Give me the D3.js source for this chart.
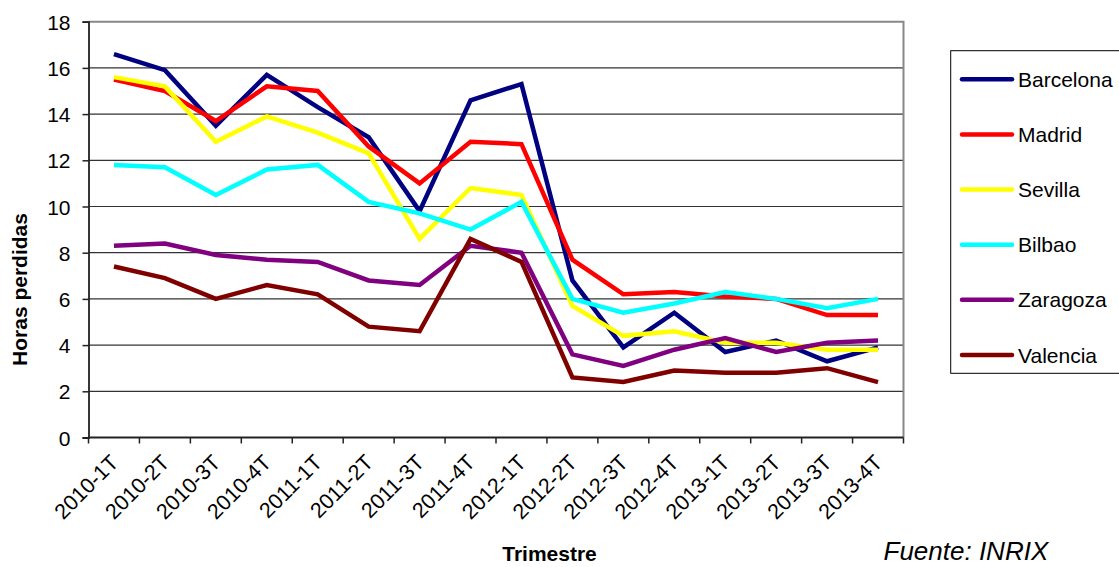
<!DOCTYPE html>
<html>
<head>
<meta charset="utf-8">
<script src="https://cdn.jsdelivr.net/npm/d3@7"></script>
<style>
  html, body { margin: 0; padding: 0; background: #fff; }
  svg { display: block; }
  text { font-family: "Liberation Sans", Arial, sans-serif; fill: #000; }
</style>
</head>
<body>
<svg id="chart" width="1119" height="567"></svg>
<script>
const categories = ["2010-1T","2010-2T","2010-3T","2010-4T","2011-1T","2011-2T","2011-3T","2011-4T",
                    "2012-1T","2012-2T","2012-3T","2012-4T","2013-1T","2013-2T","2013-3T","2013-4T"];
const yTicks = [0, 2, 4, 6, 8, 10, 12, 14, 16, 18];
const seriesNames = ["Barcelona", "Madrid", "Sevilla", "Bilbao", "Zaragoza", "Valencia"];
const seriesColors = ["#000080", "#FF0000", "#FFFF00", "#00FFFF", "#800080", "#800000"];
const barcelona = [16.6, 15.9, 13.5, 15.7, 14.3, 13.0, 9.8, 14.6, 15.3, 6.8, 3.9, 5.4, 3.7, 4.2, 3.3, 3.9];
const madrid    = [15.5, 15.0, 13.7, 15.2, 15.0, 12.6, 11.0, 12.8, 12.7, 7.7, 6.2, 6.3, 6.1, 6.0, 5.3, 5.3];
const sevilla   = [15.6, 15.2, 12.8, 13.9, 13.2, 12.3, 8.6, 10.8, 10.5, 5.7, 4.4, 4.6, 4.1, 4.1, 3.8, 3.8];
const bilbao    = [11.8, 11.7, 10.5, 11.6, 11.8, 10.2, 9.7, 9.0, 10.2, 6.0, 5.4, 5.8, 6.3, 6.0, 5.6, 6.0];
const zaragoza  = [8.3, 8.4, 7.9, 7.7, 7.6, 6.8, 6.6, 8.3, 8.0, 3.6, 3.1, 3.8, 4.3, 3.7, 4.1, 4.2];
const valencia  = [7.4, 6.9, 6.0, 6.6, 6.2, 4.8, 4.6, 8.6, 7.6, 2.6, 2.4, 2.9, 2.8, 2.8, 3.0, 2.4];
const seriesValues = [barcelona, madrid, sevilla, bilbao, zaragoza, valencia];
const yTitle = "Horas perdidas";
const xTitle = "Trimestre";
const sourceText = "Fuente: INRIX";

const svg = d3.select("#chart");
const pL = 88.5, pR = 903.5, pT = 21.7, pB = 437.5;

const x = d3.scaleBand().domain(categories).range([pL, pR]).paddingInner(0).paddingOuter(0);
const y = d3.scaleLinear().domain([0, 18]).range([pB, pT]);
const cx = d => x(d) + x.bandwidth() / 2;

// gridlines
svg.append("g").selectAll("line").data(yTicks.filter(t => t > 0 && t < 18)).join("line")
  .attr("x1", pL).attr("x2", pR)
  .attr("y1", d => y(d)).attr("y2", d => y(d))
  .attr("stroke", "#333").attr("stroke-width", 1.2);

// top & right border
svg.append("path")
  .attr("d", `M${pL},${y(18)}H${pR}V${pB}`)
  .attr("fill", "none").attr("stroke", "#888").attr("stroke-width", 2);

// y axis
const yAxis = d3.axisLeft(y).tickValues(yTicks).tickSize(6).tickPadding(12).tickFormat(d3.format("d"));
const gy = svg.append("g").attr("transform", `translate(${pL},0)`).call(yAxis);
gy.select(".domain").attr("stroke", "#222").attr("stroke-width", 1.8);
gy.selectAll(".tick line").attr("stroke", "#222").attr("stroke-width", 1.5);
gy.selectAll(".tick text").style("font-family", "Liberation Sans, Arial, sans-serif")
  .style("font-size", "21px").attr("fill", "#000").attr("dy", "0.36em");

// x axis: ticks at boundaries
const xAxisG = svg.append("g");
xAxisG.append("line").attr("x1", pL).attr("x2", pR).attr("y1", pB).attr("y2", pB)
  .attr("stroke", "#222").attr("stroke-width", 1.8);
const boundaries = categories.map(c => x(c)).concat([pR]);
xAxisG.selectAll("line.tk").data(boundaries).join("line").attr("class", "tk")
  .attr("x1", d => d).attr("x2", d => d).attr("y1", pB).attr("y2", pB + 6)
  .attr("stroke", "#222").attr("stroke-width", 1.5);
xAxisG.selectAll("text").data(categories).join("text")
  .attr("transform", d => `translate(${cx(d) + 4},${pB + 16}) rotate(-45)`)
  .attr("text-anchor", "end")
  .attr("dx", "-6")
  .attr("dy", "0.4em")
  .style("font-size", "21.5px")
  .text(d => d);

// lines
const line = d3.line().x((d, i) => cx(categories[i])).y(d => y(d));
svg.append("g").selectAll("path").data(seriesValues).join("path")
  .attr("d", d => line(d))
  .attr("fill", "none")
  .attr("stroke", (d, i) => seriesColors[i])
  .attr("stroke-width", 4.5)
  .attr("stroke-linejoin", "miter")
  .attr("stroke-linecap", "butt");

// axis titles
svg.append("text")
  .attr("transform", `translate(27,289.5) rotate(-90)`)
  .attr("text-anchor", "middle")
  .style("font-size", "21px").style("font-weight", "bold")
  .text(yTitle);
svg.append("text")
  .attr("x", 549.5).attr("y", 561)
  .attr("text-anchor", "middle")
  .style("font-size", "21px").style("font-weight", "bold")
  .text(xTitle);
svg.append("text")
  .attr("x", 883.5).attr("y", 560)
  .style("font-size", "26px").style("font-style", "italic")
  .text(sourceText);

// legend
const legend = svg.append("g");
legend.append("rect")
  .attr("x", 950.7).attr("y", 50.7).attr("width", 200).attr("height", 322.6)
  .attr("fill", "#fff").attr("stroke", "#000").attr("stroke-width", 1);
const rowY = d3.scalePoint().domain(seriesNames).range([79.3, 355]);
const items = legend.selectAll("g.item").data(seriesNames).join("g").attr("class", "item");
items.append("line")
  .attr("x1", 962).attr("x2", 1012).attr("y1", d => rowY(d)).attr("y2", d => rowY(d))
  .attr("stroke", (d, i) => seriesColors[i]).attr("stroke-width", 4.5).attr("stroke-linecap", "round");
items.append("text")
  .attr("x", 1018).attr("y", d => rowY(d)).attr("dy", "0.36em")
  .style("font-size", "21px")
  .text(d => d);
</script>
</body>
</html>
